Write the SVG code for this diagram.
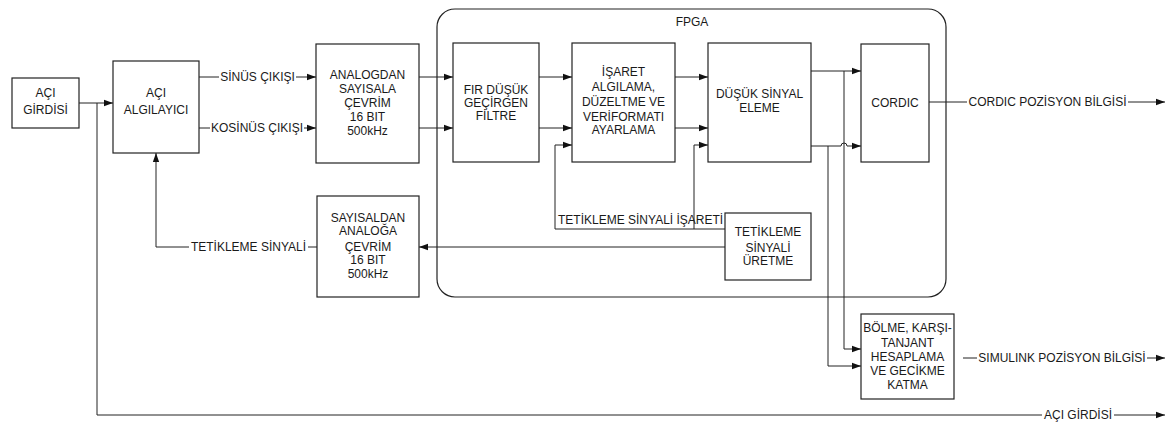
<svg xmlns="http://www.w3.org/2000/svg" width="1172" height="424" viewBox="0 0 1172 424">
<style>
.box{fill:#fff;stroke:#222;stroke-width:1.2}
.ln{fill:none;stroke:#222;stroke-width:1}
text{font-family:"Liberation Sans",Arial,sans-serif;font-size:12px;fill:#1a1a1a}
.c{text-anchor:middle}
</style>
<defs>
<marker id="ah" viewBox="0 0 10 10" refX="10" refY="5" markerWidth="9" markerHeight="9" markerUnits="userSpaceOnUse" orient="auto">
<path d="M0,1.5 L10,5 L0,8.5 Z" fill="#111"/>
</marker>
</defs>
<rect width="1172" height="424" fill="#fff"/>
<g id="fpga">
<rect x="437" y="9" width="509" height="288" rx="18" ry="18" fill="none" stroke="#222" stroke-width="1.2"/>
<text class="c" x="692" y="26">FPGA</text>
</g>
<g id="connectors">
<path class="ln" d="M79,103 H113" marker-end="url(#ah)"/>
<path class="ln" d="M97,103 V415 H1042"/>
<path class="ln" d="M1114,415 H1165" marker-end="url(#ah)"/>
<path class="ln" d="M199,77 H219"/>
<path class="ln" d="M296,77 H316" marker-end="url(#ah)"/>
<path class="ln" d="M199,128 H210"/>
<path class="ln" d="M304,128 H316" marker-end="url(#ah)"/>
<path class="ln" d="M419,77 H453" marker-end="url(#ah)"/>
<path class="ln" d="M419,128 H453" marker-end="url(#ah)"/>
<path class="ln" d="M539,77 H572" marker-end="url(#ah)"/>
<path class="ln" d="M539,128 H572" marker-end="url(#ah)"/>
<path class="ln" d="M675,77 H708" marker-end="url(#ah)"/>
<path class="ln" d="M675,128 H708" marker-end="url(#ah)"/>
<path class="ln" d="M725,229 H555 V145 H572" marker-end="url(#ah)"/>
<path class="ln" d="M694,229 V145 H708" marker-end="url(#ah)"/>
<path class="ln" d="M725,247 H419" marker-end="url(#ah)"/>
<path class="ln" d="M317,247 H308"/>
<path class="ln" d="M189,247 H156 V153" marker-end="url(#ah)"/>
<path class="ln" d="M811,71 H861" marker-end="url(#ah)"/>
<path class="ln" d="M811,146 H841 A3,3 0 0 1 847,146 H861" marker-end="url(#ah)"/>
<path class="ln" d="M844,71 V349 H861" marker-end="url(#ah)"/>
<path class="ln" d="M828,146 V366 H861" marker-end="url(#ah)"/>
<path class="ln" d="M929,102 H967"/>
<path class="ln" d="M1128,102 H1165" marker-end="url(#ah)"/>
<path class="ln" d="M963,358 H977"/>
<path class="ln" d="M1147,358 H1165" marker-end="url(#ah)"/>
<text x="558" y="224">TETİKLEME SİNYALİ İŞARETİ</text>
<text class="c" x="257.5" y="81">SİNÜS ÇIKIŞI</text>
<text class="c" x="257" y="132">KOSİNÜS ÇIKIŞI</text>
<text class="c" x="248.5" y="251">TETİKLEME SİNYALİ</text>
<text class="c" x="1047.5" y="106">CORDIC POZİSYON BİLGİSİ</text>
<text class="c" x="1062" y="362">SIMULINK POZİSYON BİLGİSİ</text>
<text class="c" x="1078" y="419">AÇI GİRDİSİ</text>
</g>
<g id="aci-girdisi">
<rect class="box" x="12" y="78" width="67" height="50"/>
<text class="c" x="45.5" y="97">AÇI</text>
<text class="c" x="45.5" y="114">GİRDİSİ</text>
</g>
<g id="aci-algilayici">
<rect class="box" x="113" y="61" width="86" height="92"/>
<text class="c" x="156" y="97">AÇI</text>
<text class="c" x="156" y="114">ALGILAYICI</text>
</g>
<g id="adc">
<rect class="box" x="316" y="44" width="103" height="119"/>
<text class="c" x="367.5" y="78.5">ANALOGDAN</text>
<text class="c" x="367.5" y="92.5">SAYISALA</text>
<text class="c" x="367.5" y="106.5">ÇEVRİM</text>
<text class="c" x="367.5" y="120.5">16 BIT</text>
<text class="c" x="367.5" y="135">500kHz</text>
</g>
<g id="fir">
<rect class="box" x="453" y="43" width="86" height="119"/>
<text class="c" x="496" y="94">FIR DÜŞÜK</text>
<text class="c" x="496" y="107">GEÇİRGEN</text>
<text class="c" x="496" y="120">FİLTRE</text>
</g>
<g id="isaret">
<rect class="box" x="572" y="43" width="103" height="119"/>
<text class="c" x="623.5" y="76">İŞARET</text>
<text class="c" x="623.5" y="90.5">ALGILAMA,</text>
<text class="c" x="623.5" y="106">DÜZELTME VE</text>
<text class="c" x="623.5" y="120.5">VERİFORMATI</text>
<text class="c" x="623.5" y="134">AYARLAMA</text>
</g>
<g id="dusuk-sinyal">
<rect class="box" x="708" y="43" width="103" height="119"/>
<text class="c" x="759.5" y="97.5">DÜŞÜK SİNYAL</text>
<text class="c" x="759.5" y="112">ELEME</text>
</g>
<g id="cordic">
<rect class="box" x="861" y="44" width="68" height="118"/>
<text class="c" x="895" y="107">CORDIC</text>
</g>
<g id="dac">
<rect class="box" x="317" y="196" width="102" height="101"/>
<text class="c" x="368" y="221.5">SAYISALDAN</text>
<text class="c" x="368" y="235">ANALOĞA</text>
<text class="c" x="368" y="250.5">ÇEVRİM</text>
<text class="c" x="368" y="264">16 BIT</text>
<text class="c" x="368" y="278">500kHz</text>
</g>
<g id="tetikleme-uretme">
<rect class="box" x="725" y="213" width="86" height="67"/>
<text class="c" x="768" y="236">TETİKLEME</text>
<text class="c" x="768" y="251.5">SİNYALİ</text>
<text class="c" x="768" y="264.5">ÜRETME</text>
</g>
<g id="bolme">
<rect class="box" x="861" y="314" width="93" height="85"/>
<text class="c" x="907.5" y="332">BÖLME, KARŞI-</text>
<text class="c" x="907.5" y="346.5">TANJANT</text>
<text class="c" x="907.5" y="361">HESAPLAMA</text>
<text class="c" x="907.5" y="374.5">VE GECİKME</text>
<text class="c" x="907.5" y="389">KATMA</text>
</g>
</svg>
